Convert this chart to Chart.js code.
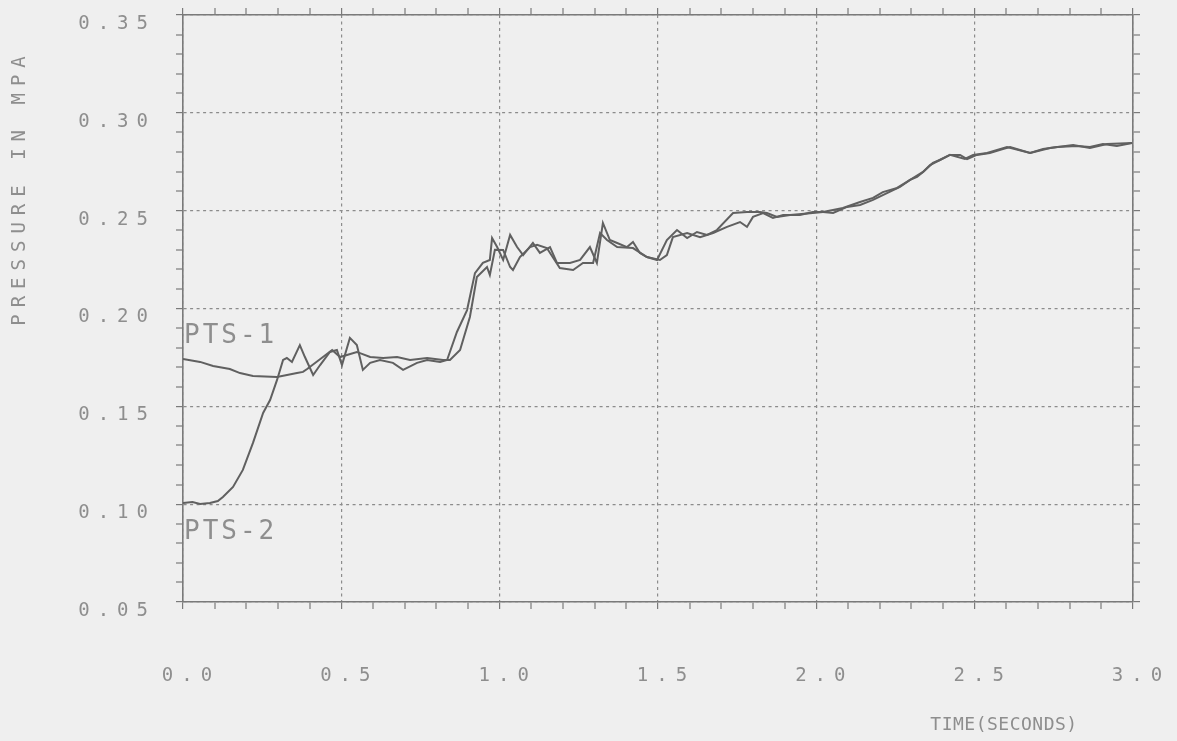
<!DOCTYPE html>
<html>
<head>
<meta charset="utf-8">
<script src="https://cdn.jsdelivr.net/npm/chart.js@4.4.0/dist/chart.umd.min.js"></script>
<style>
  html, body { margin: 0; padding: 0; background: #efefef; }
  #wrap { width: 1177px; height: 741px; }
</style>
</head>
<body>
<div id="wrap"><canvas id="pressureChart" width="1177" height="741"></canvas></div>
<script>
// PTS-1 trace (time in s, pressure in MPa)
const pts1Time = [0, 0.054, 0.095, 0.148, 0.18, 0.221, 0.297, 0.36, 0.379, 0.392, 0.442, 0.471, 0.496, 0.549, 0.591,
  0.632, 0.676, 0.717, 0.771, 0.821, 0.843, 0.875, 0.906, 0.928, 0.96, 0.969, 0.985, 1.011, 1.033, 1.042,
  1.064, 1.096, 1.118, 1.149, 1.19, 1.232, 1.263, 1.295, 1.317, 1.339, 1.371, 1.421, 1.465, 1.506, 1.528,
  1.547, 1.592, 1.633, 1.674, 1.718, 1.759, 1.781, 1.8, 1.832, 1.863, 1.895, 1.917, 1.989, 2.021, 2.084,
  2.138, 2.179, 2.21, 2.255, 2.296, 2.337, 2.359, 2.39, 2.422, 2.469, 2.495, 2.539, 2.602, 2.675, 2.738,
  2.811, 2.864, 2.918, 2.997];
const pts1Pressure = [0.1742, 0.1727, 0.1706, 0.1691, 0.167, 0.1655, 0.165, 0.167, 0.1676, 0.1691, 0.1752, 0.1788, 0.1752, 0.1778, 0.1752,
  0.1747, 0.1752, 0.1737, 0.1747, 0.1737, 0.1737, 0.1788, 0.1957, 0.2161, 0.2212, 0.2171, 0.23, 0.2299, 0.2212, 0.2197,
  0.2263, 0.2314, 0.2325, 0.2309, 0.2207, 0.2197, 0.2233, 0.2233, 0.2386, 0.235, 0.2314, 0.2309, 0.2263, 0.2248, 0.2273,
  0.2365, 0.2386, 0.2365, 0.2386, 0.2417, 0.2442, 0.2417, 0.2468, 0.2488, 0.2463, 0.2478, 0.2478, 0.2488, 0.2493, 0.2514,
  0.2544, 0.2565, 0.2595, 0.2616, 0.2657, 0.2698, 0.2733, 0.2759, 0.2785, 0.2764, 0.2785, 0.2795, 0.2825, 0.2795, 0.282,
  0.2836, 0.282, 0.2841, 0.2846];

// PTS-2 trace
const pts2Time = [0, 0.03, 0.054, 0.085, 0.11, 0.126, 0.158, 0.189, 0.221, 0.253, 0.275, 0.297, 0.316, 0.328, 0.344,
  0.369, 0.385, 0.411, 0.433, 0.464, 0.486, 0.502, 0.527, 0.549, 0.568, 0.591, 0.622, 0.663, 0.695, 0.739,
  0.771, 0.812, 0.834, 0.865, 0.897, 0.922, 0.947, 0.969, 0.976, 0.992, 1.011, 1.033, 1.055, 1.074, 1.105,
  1.127, 1.159, 1.181, 1.222, 1.254, 1.285, 1.307, 1.326, 1.348, 1.371, 1.402, 1.421, 1.443, 1.465, 1.497,
  1.528, 1.56, 1.592, 1.623, 1.655, 1.686, 1.737, 1.781, 1.822, 1.844, 1.876, 1.917, 1.948, 1.989, 2.021,
  2.053, 2.097, 2.138, 2.179, 2.223, 2.264, 2.296, 2.318, 2.337, 2.368, 2.39, 2.422, 2.454, 2.476, 2.507,
  2.548, 2.589, 2.612, 2.675, 2.716, 2.76, 2.823, 2.864, 2.905, 2.949, 2.997];
const pts2Pressure = [0.1006, 0.1011, 0.1001, 0.1006, 0.1016, 0.1037, 0.1088, 0.1175, 0.1313, 0.1466, 0.1532, 0.1635, 0.1737, 0.1747, 0.1727,
  0.1813, 0.1752, 0.166, 0.1711, 0.1778, 0.1788, 0.1711, 0.185, 0.1813, 0.1686, 0.1722, 0.1737, 0.1722, 0.1686, 0.1722,
  0.1737, 0.1727, 0.1737, 0.188, 0.1992, 0.2181, 0.2233, 0.2248, 0.236, 0.2314, 0.2248, 0.2376, 0.2314, 0.2273, 0.2335,
  0.2284, 0.2314, 0.2233, 0.2233, 0.2248, 0.2314, 0.2233, 0.2437, 0.235, 0.2335, 0.2314, 0.234, 0.2284, 0.2263, 0.2248,
  0.235, 0.2401, 0.236, 0.2391, 0.2376, 0.2401, 0.2488, 0.2493, 0.2493, 0.2488, 0.2468, 0.2478, 0.2478, 0.2493, 0.2493,
  0.2488, 0.2519, 0.2529, 0.2555, 0.259, 0.2621, 0.2657, 0.2672, 0.2698, 0.2744, 0.2759, 0.2785, 0.2785, 0.2764, 0.2785,
  0.2795, 0.2815, 0.2825, 0.2795, 0.2815, 0.2825, 0.283, 0.2825, 0.2841, 0.283, 0.2846];

const xTickValues = [0, 0.5, 1, 1.5, 2, 2.5, 3];
const xTickLabels = ["0.0", "0.5", "1.0", "1.5", "2.0", "2.5", "3.0"];
const yTickValues = [0.05, 0.1, 0.15, 0.2, 0.25, 0.3, 0.35];
const yTickLabels = ["0.05", "0.10", "0.15", "0.20", "0.25", "0.30", "0.35"];
const xMinorStep = 0.1;
const yMinorStep = 0.01;

const seriesNames = ["PTS-1", "PTS-2"];
const seriesLabelX = [0, 0];
const seriesLabelY = [0.186, 0.0855];

const xTitle = "TIME(SECONDS)";
const yTitle = "PRESSURE IN MPA";

const lineColor = "#606060";
const textColor = "#8e8e8e";
const axisColor = "#7a7a7a";
const gridColor = "#8c8c8c";
const plotFont = '"DejaVu Sans Mono", "Liberation Mono", monospace';

function toPoints(times, values) {
  return times.map((t, i) => ({ x: t, y: values[i] }));
}

function minorTicks(scale, step) {
  const n = Math.round((scale.max - scale.min) / step);
  const ticks = [];
  for (let i = 0; i <= n; i++) {
    ticks.push({ value: +(scale.min + i * step).toFixed(4) });
  }
  scale.ticks = ticks;
}

function majorIndex(list, value) {
  return list.findIndex(v => Math.abs(v - value) < 1e-6);
}

// fixed box sizes, no extra room for label overflow
function fixBox(size) {
  return s => {
    if (s.isHorizontal()) s.height = size; else s.width = size;
    s.paddingLeft = s.paddingRight = s.paddingTop = s.paddingBottom = 0;
  };
}

function gridOpts(list, showGrid) {
  return {
    drawOnChartArea: showGrid,
    color: ctx => (ctx.tick && majorIndex(list, ctx.tick.value) >= 0) ? gridColor : "transparent",
    lineWidth: ctx => (ctx.tick && majorIndex(list, ctx.tick.value) >= 0) ? 1.2 : 0,
    tickColor: axisColor,
    tickWidth: 1.2,
    tickLength: 7
  };
}

const backgroundPlugin = {
  id: "paper",
  beforeDraw(chart) {
    const ctx = chart.ctx;
    ctx.save();
    ctx.fillStyle = "#efefef";
    ctx.fillRect(0, 0, chart.width, chart.height);
    ctx.restore();
    ctx.letterSpacing = "8px";
  }
};

const textPlugin = {
  id: "plotterText",
  afterDraw(chart) {
    const ctx = chart.ctx;
    const xs = chart.scales.x;
    const ys = chart.scales.y;

    ctx.save();
    ctx.fillStyle = textColor;
    ctx.textBaseline = "middle";

    ctx.letterSpacing = "3px";
    ctx.font = "26px " + plotFont;
    ctx.textAlign = "left";
    seriesNames.forEach((name, i) => {
      ctx.fillText(name, xs.getPixelForValue(seriesLabelX[i]) + 1, ys.getPixelForValue(seriesLabelY[i]));
    });

    ctx.letterSpacing = "0.5px";
    ctx.font = "18px " + plotFont;
    ctx.textAlign = "center";
    ctx.fillText(xTitle, 1004, 725);

    ctx.letterSpacing = "7px";
    ctx.font = "19px " + plotFont;
    ctx.translate(20, 191);
    ctx.rotate(-Math.PI / 2);
    ctx.fillText(yTitle, 3.5, 0);
    ctx.restore();
  }
};

new Chart(document.getElementById("pressureChart"), {
  type: "scatter",
  data: {
    datasets: [
      {
        label: seriesNames[0],
        data: toPoints(pts1Time, pts1Pressure),
        showLine: true,
        borderColor: lineColor,
        borderWidth: 2,
        pointRadius: 0,
        tension: 0
      },
      {
        label: seriesNames[1],
        data: toPoints(pts2Time, pts2Pressure),
        showLine: true,
        borderColor: lineColor,
        borderWidth: 2,
        pointRadius: 0,
        tension: 0
      }
    ]
  },
  options: {
    responsive: false,
    animation: false,
    devicePixelRatio: 1,
    layout: { padding: 0 },
    plugins: {
      legend: { display: false },
      tooltip: { enabled: false }
    },
    scales: {
      x: {
        type: "linear",
        position: "bottom",
        min: 0,
        max: 3,
        afterBuildTicks: s => minorTicks(s, xMinorStep),
        afterFit: fixBox(139),
        grid: gridOpts(xTickValues, true),
        border: { color: axisColor, width: 1.6, dash: [3, 3.5] },
        ticks: {
          autoSkip: false,
          maxRotation: 0,
          color: textColor,
          font: { family: plotFont, size: 19 },
          padding: 56,
          labelOffset: 8,
          callback: v => {
            const i = majorIndex(xTickValues, v);
            return i >= 0 ? xTickLabels[i] : "";
          }
        }
      },
      y: {
        type: "linear",
        position: "left",
        min: 0.05,
        max: 0.35,
        afterBuildTicks: s => minorTicks(s, yMinorStep),
        afterFit: fixBox(183),
        grid: gridOpts(yTickValues, true),
        border: { color: axisColor, width: 1.6, dash: [3, 3.5] },
        ticks: {
          autoSkip: false,
          color: textColor,
          font: { family: plotFont, size: 19 },
          padding: 20,
          labelOffset: 9,
          callback: v => {
            const i = majorIndex(yTickValues, v);
            return i >= 0 ? yTickLabels[i] : "";
          }
        }
      },
      x2: {
        type: "linear",
        position: "top",
        min: 0,
        max: 3,
        afterBuildTicks: s => minorTicks(s, xMinorStep),
        afterFit: fixBox(15),
        grid: gridOpts(xTickValues, false),
        border: { color: axisColor, width: 1.6 },
        ticks: { display: false }
      },
      y2: {
        type: "linear",
        position: "right",
        min: 0.05,
        max: 0.35,
        afterBuildTicks: s => minorTicks(s, yMinorStep),
        afterFit: fixBox(44),
        grid: gridOpts(yTickValues, false),
        border: { color: axisColor, width: 1.6 },
        ticks: { display: false }
      }
    }
  },
  plugins: [backgroundPlugin, textPlugin]
});
</script>
</body>
</html>
